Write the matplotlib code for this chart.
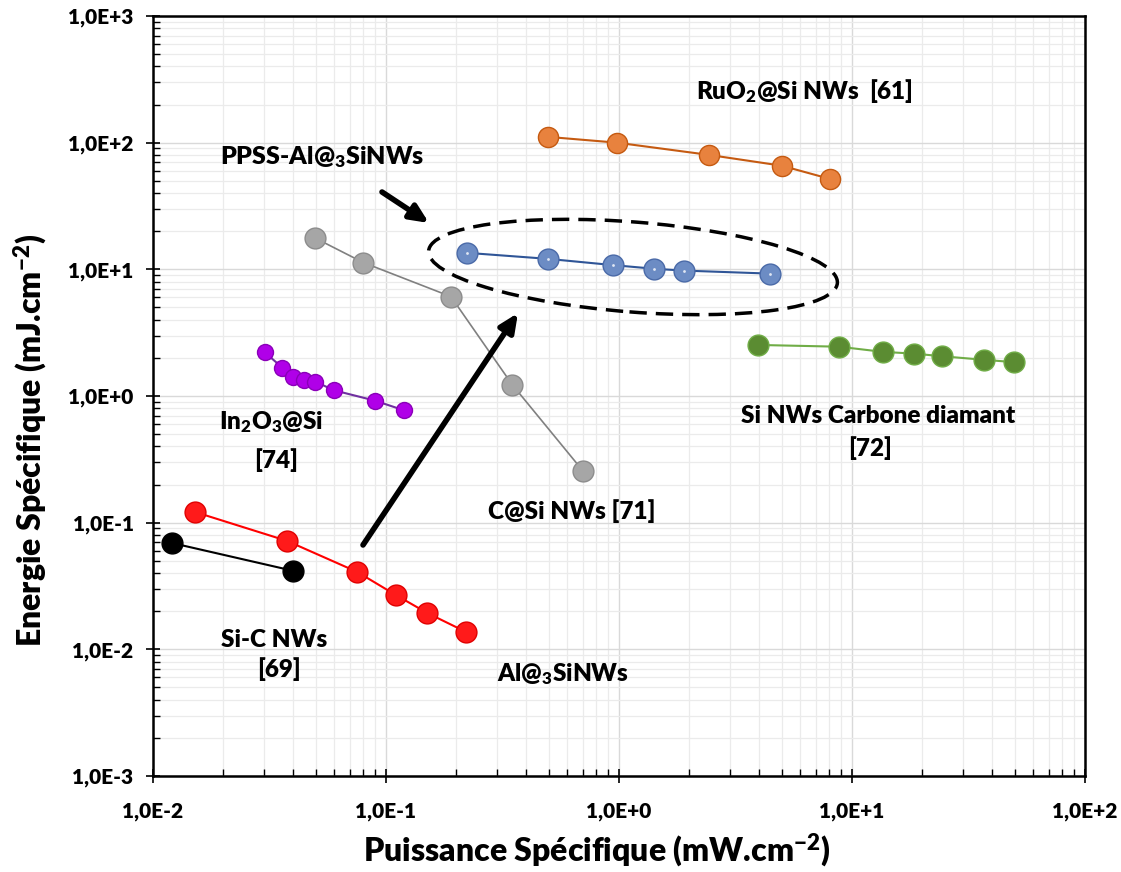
import numpy as np
import matplotlib
matplotlib.use("Agg")
import matplotlib.pyplot as plt
from matplotlib.patches import Ellipse
from matplotlib.ticker import LogLocator, FuncFormatter, NullFormatter

plt.rcParams["mathtext.fontset"] = "custom"
plt.rcParams["mathtext.rm"] = "Lato:heavy"
plt.rcParams["mathtext.it"] = "Lato:heavy"
plt.rcParams["mathtext.bf"] = "Lato:heavy"

# Ragone data (mW.cm-2, mJ.cm-2)
sic_p = [0.0121, 0.0399]
sic_e = [0.069, 0.0417]

al_p = [0.0151, 0.0376, 0.0751, 0.110, 0.150, 0.220]
al_e = [0.1216, 0.0718, 0.0409, 0.0269, 0.0194, 0.01375]

in_p = [0.0301, 0.0359, 0.0398, 0.0446, 0.0497, 0.0597, 0.0894, 0.119]
in_e = [2.22, 1.675, 1.42, 1.34, 1.30, 1.11, 0.92, 0.773]

csi_p = [0.0498, 0.080, 0.190, 0.348, 0.698]
csi_e = [17.6, 11.3, 6.09, 1.23, 0.258]

ppss_p = [0.222, 0.495, 0.942, 1.42, 1.91, 4.46]
ppss_e = [13.5, 12.1, 10.8, 10.1, 9.77, 9.25]

ru_p = [0.498, 0.98, 2.44, 4.99, 8.05]
ru_e = [111, 100, 80, 65.8, 51.7]

dia_p = [3.94, 8.8, 13.6, 18.5, 24.3, 37.0, 49.6]
dia_e = [2.53, 2.45, 2.23, 2.16, 2.06, 1.93, 1.85]

series = [
    (sic_p, sic_e, "#000000", "#000000", "#000000", 15, 1.5),
    (al_p, al_e, "#FF0000", "#FF1a1a", "#E00000", 15, 1.5),
    (in_p, in_e, "#7030A0", "#B000E8", "#8A00B8", 11.5, 1.5),
    (csi_p, csi_e, "#808080", "#A6A6A6", "#8C8C8C", 15, 1.2),
    (ppss_p, ppss_e, "#2F5597", "#6C8CC4", "#4A6AA8", 15, 1.5),
    (ru_p, ru_e, "#C55A11", "#E8823E", "#C55A11", 14.5, 1.5),
    (dia_p, dia_e, "#70AD47", "#5B8C32", "#70AD47", 15, 1.5),
]

fig = plt.figure(figsize=(11.21, 8.72), dpi=100)
ax = fig.add_axes([153 / 1121, 1 - 776 / 872, 932 / 1121, 760 / 872])

for p, e, lc, fc, ec, ms, lw in series:
    ax.plot(p, e, color=lc, lw=lw, marker="o", ms=ms, mfc=fc, mec=ec, mew=1, zorder=3)

# tiny white centre dots on the PPSS balls
ax.plot(ppss_p, ppss_e, ls="none", marker="o", ms=2, mfc="white", mec="none", alpha=0.8, zorder=4)

ax.set_xscale("log")
ax.set_yscale("log")
ax.set_xlim(1e-2, 1e2)
ax.set_ylim(1e-3, 1e3)

ax.xaxis.set_major_locator(LogLocator(base=10, numticks=10))
ax.yaxis.set_major_locator(LogLocator(base=10, numticks=10))
ax.xaxis.set_minor_locator(LogLocator(base=10, subs=np.arange(2, 10), numticks=20))
ax.yaxis.set_minor_locator(LogLocator(base=10, subs=np.arange(2, 10), numticks=20))
ax.xaxis.set_minor_formatter(NullFormatter())
ax.yaxis.set_minor_formatter(NullFormatter())

fmt = FuncFormatter(lambda v, pos: "1,0E{:+d}".format(int(round(np.log10(v)))))
ax.xaxis.set_major_formatter(fmt)
ax.yaxis.set_major_formatter(fmt)

ax.grid(which="major", color="#D9D9D9", lw=1.0)
ax.grid(which="minor", color="#EBEBEB", lw=0.9)
ax.set_axisbelow(True)

for s in ax.spines.values():
    s.set_linewidth(1.8)
ax.tick_params(which="major", direction="inout", length=10, width=1.2)
ax.tick_params(which="minor", direction="in", length=5, width=1.0)
ax.tick_params(axis="x", which="major", pad=14)
ax.tick_params(axis="y", which="major", pad=9)

for lab in ax.get_xticklabels() + ax.get_yticklabels():
    lab.set_fontfamily("Lato")
    lab.set_fontweight("heavy")
    lab.set_fontsize(15)

ax.set_xlabel("Puissance Spécifique (mW.cm$^{-2}$)", fontsize=23, fontweight="heavy",
              fontfamily="Lato", va="center")
ax.set_ylabel("Energie Spécifique (mJ.cm$^{-2}$)", fontsize=23, fontweight="heavy",
              fontfamily="Lato", va="center")
ax.xaxis.set_label_coords((597 - 153) / 932, (776 - 850) / 760)
ax.yaxis.set_label_coords((30 - 153) / 932, (776 - 440) / 760)


def lbl(px, py, s, size=17.5):
    ax.text((px - 153) / 932, (776 - py) / 760, s, transform=ax.transAxes,
            ha="center", va="center", fontsize=size, fontweight="heavy",
            fontfamily="Lato", zorder=6)


lbl(804, 91, "RuO$_2$@Si NWs  [61]")
lbl(322, 157, "PPSS-Al@$_3$SiNWs", size=18)
lbl(271, 422, "In$_2$O$_3$@Si")
lbl(276, 460, "[74]")
lbl(878, 416, "Si NWs Carbone diamant")
lbl(870, 448, "[72]")
lbl(572, 511, "C@Si NWs [71]")
lbl(274, 640, "Si-C NWs")
lbl(279, 669, "[69]")
lbl(563, 674, "Al@$_3$SiNWs")

# dashed ellipse around PPSS series (figure inches, dpi 100)
ell = Ellipse((6.33, 8.72 - 2.67), 4.10, 0.90, angle=-4.5, fill=False, ls=(0, (5, 2.6)),
              lw=2.5, color="black", transform=fig.dpi_scale_trans, zorder=5)
fig.patches.append(ell)


def to_ax(px, py):
    return ((px - 153) / 932, (776 - py) / 760)


ax.annotate("", xy=to_ax(518, 313), xytext=to_ax(363, 545), xycoords="axes fraction",
            textcoords="axes fraction",
            arrowprops=dict(arrowstyle="-|>,head_length=1.1,head_width=0.5", lw=4, color="black",
                            shrinkA=0, shrinkB=0), zorder=6)
ax.annotate("", xy=to_ax(429, 223), xytext=to_ax(382, 192), xycoords="axes fraction",
            textcoords="axes fraction",
            arrowprops=dict(arrowstyle="-|>,head_length=1.1,head_width=0.5", lw=4, color="black",
                            shrinkA=0, shrinkB=0), zorder=6)

fig.savefig("out.png", dpi=100)
